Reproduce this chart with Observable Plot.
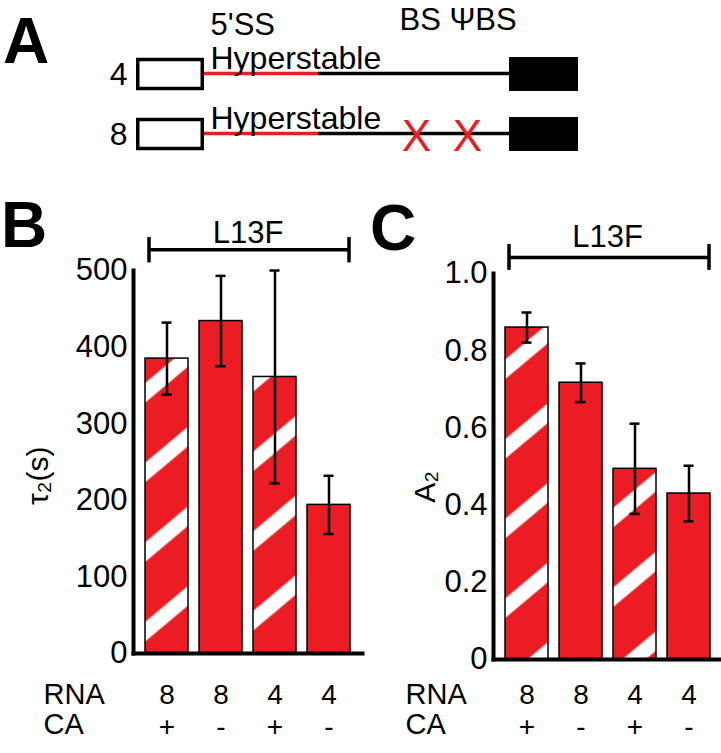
<!DOCTYPE html>
<html><head><meta charset="utf-8">
<script src="https://cdn.jsdelivr.net/npm/d3@7"></script>
<script src="https://cdn.jsdelivr.net/npm/@observablehq/plot@0.6"></script>
<style>
body{margin:0;background:#fff;}
#fig{position:relative;width:721px;height:753px;overflow:hidden;background:#fff;font-family:"Liberation Sans",Arial,sans-serif;color:#000;}
.panel{position:absolute;}
.letter{position:absolute;font-weight:bold;font-size:64px;line-height:64px;color:#000;font-family:"Liberation Sans",Arial,sans-serif;}
</style></head><body>
<div id="fig">
<svg width="0" height="0" style="position:absolute">
<defs>
<pattern id="hatchB" patternUnits="userSpaceOnUse" width="20" height="61" patternTransform="rotate(-40)">
<rect width="20" height="61" fill="#ec1c24"/>
<rect y="12.5" width="20" height="15" fill="#fff"/>
</pattern>
<pattern id="hatchC" patternUnits="userSpaceOnUse" width="20" height="61" patternTransform="rotate(-40)">
<rect width="20" height="61" fill="#ec1c24"/>
<rect y="0" width="20" height="9.5" fill="#fff"/>
<rect y="55.5" width="20" height="5.5" fill="#fff"/>
</pattern>
</defs>
</svg>
<div class="letter" style="left:3px;top:9px">A</div>
<div class="letter" style="left:1px;top:193px">B</div>
<div class="letter" style="left:370px;top:196px">C</div>
<div class="panel" id="pA" style="left:0;top:0;width:721px;height:165px"></div>
<div class="panel" id="pB" style="left:0;top:170px;width:365px;height:583px"></div>
<div class="panel" id="pC" style="left:360px;top:170px;width:361px;height:583px"></div>
</div>
<script>
// ---------- data ----------
// Panel A schematic (positions in schematic units)
const constructs = ["4", "8"];
const exon1 = [0, 68];
const hyperstable = [68, 182];
const intron = [182, 373];
const exon2 = [373, 442];
const mutationConstruct = ["8", "8"];
const mutationPos = [280, 331];
const siteLabels = ["5'SS", "BS ΨBS"];

// Panels B and C
const keys = ["8+", "8-", "4+", "4-"];
const rnaLabels = ["8", "8", "4", "4"];
const caLabels = ["+", "-", "+", "-"];
const tau2 = [385, 434, 361, 194];
const tau2Err = [47, 59, 139, 38];
const a2 = [0.86, 0.717, 0.494, 0.43];
const a2Err = [0.039, 0.05, 0.117, 0.072];
const tauTicks = [0, 100, 200, 300, 400, 500];
const a2Ticks = [0, 0.2, 0.4, 0.6, 0.8, 1.0];
const groupLabel = "L13F";

const RED = "#ec1c24";
const FONT = '"Liberation Sans", Arial, sans-serif';

// ---------- Panel A ----------
const mutations = mutationPos.map((p, i) => ({pos: p, construct: mutationConstruct[i]}));
const pA = Plot.plot({
  width: 721, height: 165,
  marginTop: 56, marginBottom: 14, marginLeft: 136, marginRight: 143,
  style: {fontFamily: FONT, fontSize: "31px", background: "transparent", overflow: "visible"},
  x: {domain: [exon1[0], exon2[1]], axis: null},
  y: {type: "band", domain: constructs, paddingInner: 0.44, paddingOuter: 0, axis: null},
  marks: [
    Plot.ruleY(constructs, {y: d => d, x1: hyperstable[0], x2: hyperstable[1], stroke: RED, strokeWidth: 3.5, dy: -1}),
    Plot.ruleY(constructs, {y: d => d, x1: intron[0], x2: intron[1], stroke: "black", strokeWidth: 3.5, dy: -1}),
    Plot.barX(constructs, {y: d => d, x1: exon1[0], x2: exon1[1], fill: "white", stroke: "black", strokeWidth: 3.5,
      insetTop: 2.5, insetBottom: 2.5, insetLeft: 1.75, insetRight: 1.75}),
    Plot.barX(constructs, {y: d => d, x1: exon2[0], x2: exon2[1], fill: "black"}),
    Plot.text(constructs, {y: d => d, x: exon1[0], text: d => d, textAnchor: "end", dx: -9, fontSize: 32}),
    Plot.text(constructs, {y: d => d, x: hyperstable[0], text: () => "Hyperstable", textAnchor: "start", lineAnchor: "bottom", dx: 6, dy: -6, fontSize: 32}),
    Plot.text([siteLabels[0]], {y: () => constructs[0], x: hyperstable[0], textAnchor: "start", lineAnchor: "bottom", dx: 6, dy: -40}),
    Plot.text([siteLabels[1]], {y: () => constructs[0], x: mutationPos[0], textAnchor: "start", lineAnchor: "bottom", dx: -17, dy: -45}),
    Plot.text(mutations, {x: "pos", y: "construct", text: () => "X", fill: RED, fontSize: 44, dy: 2})
  ]
});
document.getElementById("pA").appendChild(pA);

// ---------- bar panel builder ----------
function barPanel(o) {
  const rows = keys.map((k, i) => ({key: k, rna: rnaLabels[i], ca: caLabels[i], v: o.values[i], e: o.errs[i]}));
  const first = keys[0], last = keys[keys.length - 1];
  return Plot.plot({
    width: o.width, height: o.height,
    marginTop: o.mt, marginBottom: o.mb, marginLeft: o.ml, marginRight: o.mr,
    style: {fontFamily: FONT, fontSize: "31px", background: "transparent", overflow: "visible"},
    x: {type: "band", domain: keys, paddingInner: 0.21, paddingOuter: 0.2, axis: null},
    y: {domain: o.domain, label: null},
    marks: [
      Plot.barY(rows.filter(d => d.ca === "+"), {x: "key", y: "v", fill: `url(#${o.hatch})`, stroke: "black", strokeWidth: 1.5}),
      Plot.barY(rows.filter(d => d.ca === "-"), {x: "key", y: "v", fill: RED, stroke: "black", strokeWidth: 1.5}),
      Plot.ruleX(rows, {x: "key", y1: d => d.v - d.e, y2: d => d.v + d.e, stroke: "black", strokeWidth: 2.5}),
      Plot.tickY(rows, {x: "key", y: d => d.v + d.e, stroke: "black", strokeWidth: 2.5, insetLeft: 16.5, insetRight: 16.5}),
      Plot.tickY(rows, {x: "key", y: d => d.v - d.e, stroke: "black", strokeWidth: 2.5, insetLeft: 16.5, insetRight: 16.5}),
      Plot.frame({anchor: "left", stroke: "black", strokeWidth: 4}),
      Plot.frame({anchor: "bottom", stroke: "black", strokeWidth: 4}),
      Plot.axisY({ticks: o.ticks, tickFormat: o.fmt, tickSize: 0, tickPadding: 6, label: null, fontSize: 31}),
      Plot.text(rows, {x: "key", text: "rna", frameAnchor: "bottom", lineAnchor: "bottom", dy: o.rnaDy, fontSize: 28}),
      Plot.text(rows, {x: "key", text: "ca", frameAnchor: "bottom", lineAnchor: "bottom", dy: o.rnaDy + 32, fontSize: 28}),
      Plot.text(["RNA"], {frameAnchor: "bottom-left", textAnchor: "start", lineAnchor: "bottom", dx: o.rowDx, dy: o.rnaDy, fontSize: 29}),
      Plot.text(["CA"], {frameAnchor: "bottom-left", textAnchor: "start", lineAnchor: "bottom", dx: o.rowDx, dy: o.rnaDy + 30, fontSize: 29}),
      Plot.text([o.label], {y: () => o.labelAt, frameAnchor: "left", textAnchor: "middle", lineAnchor: "middle", rotate: -90, dx: o.labDx, fontSize: 30}),
      Plot.ruleY([o.bracketY], {y: d => d, x1: () => first, x2: () => last, insetLeft: 3, insetRight: 1, stroke: "black", strokeWidth: 3.5}),
      Plot.ruleX([first], {x: d => d, y1: o.tickLo, y2: o.tickHi, dx: -18, stroke: "black", strokeWidth: 3.5}),
      Plot.ruleX([last], {x: d => d, y1: o.tickLo, y2: o.tickHi, dx: 20, stroke: "black", strokeWidth: 3.5}),
      Plot.text([groupLabel], {frameAnchor: "top", lineAnchor: "bottom", dy: o.groupDy, fontSize: 31})
    ]
  });
}

const pB = barPanel({
  values: tau2, errs: tau2Err, domain: [0, 500], ticks: tauTicks, fmt: d => String(d),
  hatch: "hatchB", label: "τ₂(s)", labelAt: 232,
  width: 365, height: 583, mt: 100, mb: 100, ml: 133, mr: 3,
  rnaDy: 50, rowDx: -90, labDx: -95,
  bracketY: 527, tickLo: 510, tickHi: 543, groupDy: -28
});
document.getElementById("pB").appendChild(pB);

const pC = barPanel({
  values: a2, errs: a2Err, domain: [0, 1], ticks: a2Ticks, fmt: d => d === 0 ? "0" : d.toFixed(1),
  hatch: "hatchC", label: "A₂", labelAt: 0.447,
  width: 361, height: 583, mt: 103, mb: 94, ml: 133, mr: 0,
  rnaDy: 44, rowDx: -88, labDx: -68,
  bracketY: 1.0415, tickLo: 1.008, tickHi: 1.075, groupDy: -27
});
document.getElementById("pC").appendChild(pC);
</script>
</body></html>
